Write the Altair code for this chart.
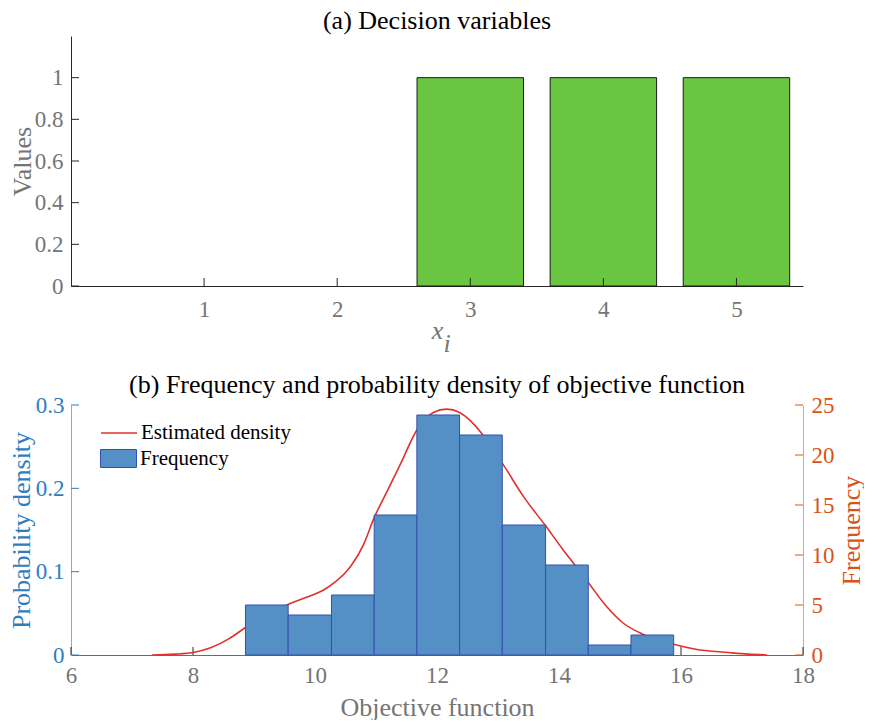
import altair as alt
import pandas as pd

# ---------------- data ----------------
var_idx = [1, 2, 3, 4, 5]
var_vals = [0, 0, 1, 1, 1]

bin_edges = [8.86, 9.56, 10.27, 10.97, 11.67, 12.37, 13.07, 13.78, 14.48, 15.18, 15.88]
bin_counts = [5, 4, 6, 14, 24, 22, 13, 9, 1, 2]

dens_x = [7.33, 7.7, 8.0, 8.3, 8.6, 8.86, 9.2, 9.54, 9.85, 10.14, 10.3, 10.5, 10.6,
          10.8, 10.96, 11.2, 11.4, 11.67, 11.94, 12.16, 12.37, 12.55, 12.73, 12.9,
          13.08, 13.41, 13.78, 14.06, 14.26, 14.48, 14.77, 15.04, 15.37, 15.88,
          16.24, 16.78, 17.1, 17.41]
dens_y = [0.000, 0.001, 0.003, 0.009, 0.020, 0.033, 0.048, 0.060, 0.069, 0.078, 0.086,
          0.099, 0.108, 0.133, 0.163, 0.199, 0.229, 0.270, 0.291, 0.295, 0.291, 0.281,
          0.266, 0.248, 0.229, 0.191, 0.155, 0.127, 0.108, 0.087, 0.059, 0.039, 0.025,
          0.013, 0.007, 0.003, 0.001, 0.000]

top_xticks = [1, 2, 3, 4, 5]
top_yticks = [0, 0.2, 0.4, 0.6, 0.8, 1.0]
bot_xticks = [6, 8, 10, 12, 14, 16, 18]
dens_ticks = [0, 0.1, 0.2, 0.3]
freq_ticks = [0, 5, 10, 15, 20, 25]

# ---------------- style ----------------
FONT = "Liberation Serif"
GRAY = "#757575"
DARK = "#262626"
GREEN = "#6AC640"
BLUE = "#5490C5"
BLUE_EDGE = "#3550AA"
RED = "#E4302A"
LBLUE = "#2E7EBF"
LBLUE_LINE = "#7FAFD8"
ORANGE = "#D95319"
ORANGE_LINE = "#EBA07E"
W, H = 732, 250
TICK = 8
TICK_FS = 23
TITLE_FS = 26
BLANK = "\u2800"

# ---------------- top panel ----------------
top_df = pd.DataFrame({"i": var_idx, "v": var_vals})
xs_top = alt.Scale(domain=[0, 5.5], nice=False, zero=False)
ys_top = alt.Scale(domain=[0, 1.2], nice=False)

top_x_axis = alt.Axis(values=top_xticks, format="~g", ticks=False, grid=False,
                      labelFlush=False, labelPadding=12, labelColor=GRAY, labelFont=FONT,
                      labelFontSize=TICK_FS, domainColor=DARK, domainWidth=1,
                      title=["x", BLANK + "i"], titleFont=FONT, titleFontSize=TITLE_FS,
                      titleFontStyle="italic", titleFontWeight="normal",
                      titleColor=GRAY, titlePadding=-4, titleLineHeight=13)
top_y_axis = alt.Axis(values=top_yticks, format="~g", ticks=False, grid=False,
                      labelFlush=False, labelPadding=8, labelColor=GRAY, labelFont=FONT,
                      labelFontSize=TICK_FS, domainColor=DARK, domainWidth=1,
                      title="Values", titleFont=FONT, titleFontSize=TITLE_FS,
                      titleFontWeight="normal", titleColor=GRAY, titlePadding=-1)

bars_top = alt.Chart(top_df).transform_filter("datum.v > 0").transform_calculate(
    lo="datum.i - 0.4", hi="datum.i + 0.4"
).mark_bar(color=GREEN, stroke="#1a1a1a", strokeWidth=1).encode(
    x=alt.X("lo:Q", scale=xs_top, axis=top_x_axis),
    x2="hi:Q",
    y=alt.Y("v:Q", scale=ys_top, axis=top_y_axis),
    y2=alt.datum(0),
)

top_xt = alt.Chart(pd.DataFrame({"t": top_xticks})).mark_rule(color=DARK).encode(
    x=alt.X("t:Q", scale=xs_top, axis=top_x_axis), y=alt.value(H), y2=alt.value(H - TICK))
top_yt = alt.Chart(pd.DataFrame({"t": top_yticks})).mark_rule(color=DARK).encode(
    y=alt.Y("t:Q", scale=ys_top, axis=top_y_axis), x=alt.value(0), x2=alt.value(TICK))

top = alt.layer(bars_top, top_xt, top_yt).properties(
    width=W, height=H,
    title=alt.TitleParams("(a) Decision variables", font=FONT, fontSize=TITLE_FS,
                          fontWeight="normal", color="black", anchor="middle", offset=2),
)

# ---------------- bottom panel ----------------
xs_bot = alt.Scale(domain=[6, 18], nice=False, zero=False)
ys_dens = alt.Scale(domain=[0, 0.3], nice=False)
ys_freq = alt.Scale(domain=[0, 25], nice=False)

bot_x_axis = alt.Axis(values=bot_xticks, format="~g", ticks=False, grid=False,
                      labelFlush=False, labelPadding=9, labelColor=GRAY, labelFont=FONT,
                      labelFontSize=TICK_FS, domainColor="#6b6b6b", domainWidth=1,
                      title="Objective function", titleFont=FONT,
                      titleFontSize=TITLE_FS, titleFontWeight="normal",
                      titleColor=GRAY, titlePadding=7)
dens_axis = alt.Axis(values=dens_ticks, format="~g", ticks=False, grid=False,
                     labelFlush=False, labelPadding=7, labelColor=LBLUE, labelFont=FONT,
                     labelFontSize=TICK_FS, domainColor=LBLUE_LINE, domainWidth=1,
                     title="Probability density", titleFont=FONT,
                     titleFontSize=TITLE_FS, titleFontWeight="normal",
                     titleColor=LBLUE, titlePadding=1)
freq_axis = alt.Axis(orient="right", values=freq_ticks, format="~g", ticks=False,
                     grid=False, labelFlush=False, labelPadding=8, labelColor=ORANGE,
                     labelFont=FONT, labelFontSize=TICK_FS, domainColor=ORANGE_LINE,
                     domainWidth=1, title="Frequency", titleFont=FONT,
                     titleFontSize=TITLE_FS, titleFontWeight="normal",
                     titleColor=ORANGE, titleAngle=270, titleBaseline="top",
                     titlePadding=4)

dens_df = pd.DataFrame({"x": dens_x, "d": dens_y, "series": "Estimated density"})
hist_df = pd.DataFrame({"lo": bin_edges[:-1], "hi": bin_edges[1:], "c": bin_counts,
                        "series": "Frequency"})

bot_xt = alt.Chart(pd.DataFrame({"t": bot_xticks})).mark_rule(color=DARK).encode(
    x=alt.X("t:Q", scale=xs_bot, axis=bot_x_axis),
    y=alt.value(H), y2=alt.value(H - TICK))

dens_line = alt.Chart(dens_df).mark_line(strokeWidth=1.6, interpolate="monotone").encode(
    x=alt.X("x:Q", scale=xs_bot, axis=bot_x_axis),
    y=alt.Y("d:Q", scale=ys_dens, axis=dens_axis),
    stroke=alt.Stroke("series:N", scale=alt.Scale(domain=["Estimated density"], range=[RED]),
                      legend=alt.Legend(orient="none", legendX=29, legendY=9, title=None,
                                        symbolType="stroke", symbolSize=1296,
                                        symbolStrokeWidth=1.6, labelFont=FONT,
                                        labelFontSize=21, labelColor="black",
                                        labelOffset=3, padding=0)),
)

left_t = alt.Chart(pd.DataFrame({"t": dens_ticks})).mark_rule(color=LBLUE).encode(
    y=alt.Y("t:Q", scale=ys_dens, axis=dens_axis), x=alt.value(0), x2=alt.value(TICK))

hist = alt.Chart(hist_df).mark_bar(stroke=BLUE_EDGE, strokeWidth=1).encode(
    x=alt.X("lo:Q", scale=xs_bot, axis=bot_x_axis),
    x2="hi:Q",
    y=alt.Y("c:Q", scale=ys_freq, axis=freq_axis),
    y2=alt.datum(0),
    fill=alt.Fill("series:N", scale=alt.Scale(domain=["Frequency"], range=[BLUE]),
                  legend=alt.Legend(orient="none", legendX=29, legendY=35, title=None,
                                    symbolType="M-1,-0.5L1,-0.5L1,0.5L-1,0.5Z",
                                    symbolSize=1296, symbolStrokeColor=BLUE_EDGE,
                                    symbolStrokeWidth=1, symbolOpacity=1,
                                    labelFont=FONT, labelFontSize=21,
                                    labelColor="black", labelOffset=3, padding=0)),
)

right_t = alt.Chart(pd.DataFrame({"t": freq_ticks})).mark_rule(color=ORANGE).encode(
    y=alt.Y("t:Q", scale=ys_freq, axis=freq_axis), x=alt.value(W - TICK), x2=alt.value(W))

left_group = alt.layer(bot_xt, dens_line, left_t)
right_group = alt.layer(hist, right_t)

bottom = alt.layer(left_group, right_group).resolve_scale(y="independent").properties(
    width=W, height=H,
    title=alt.TitleParams("(b) Frequency and probability density of objective function",
                          font=FONT, fontSize=TITLE_FS, fontWeight="normal",
                          color="black", anchor="middle", offset=-4),
)

chart = alt.vconcat(top, bottom, spacing=16).resolve_scale(
    stroke="independent", fill="independent"
).properties(
    padding={"left": 0, "top": 0, "right": 0, "bottom": 0}
).configure(font=FONT).configure_view(stroke=None)

chart.save("out.html", embed_options={"renderer": "svg", "actions": False})
